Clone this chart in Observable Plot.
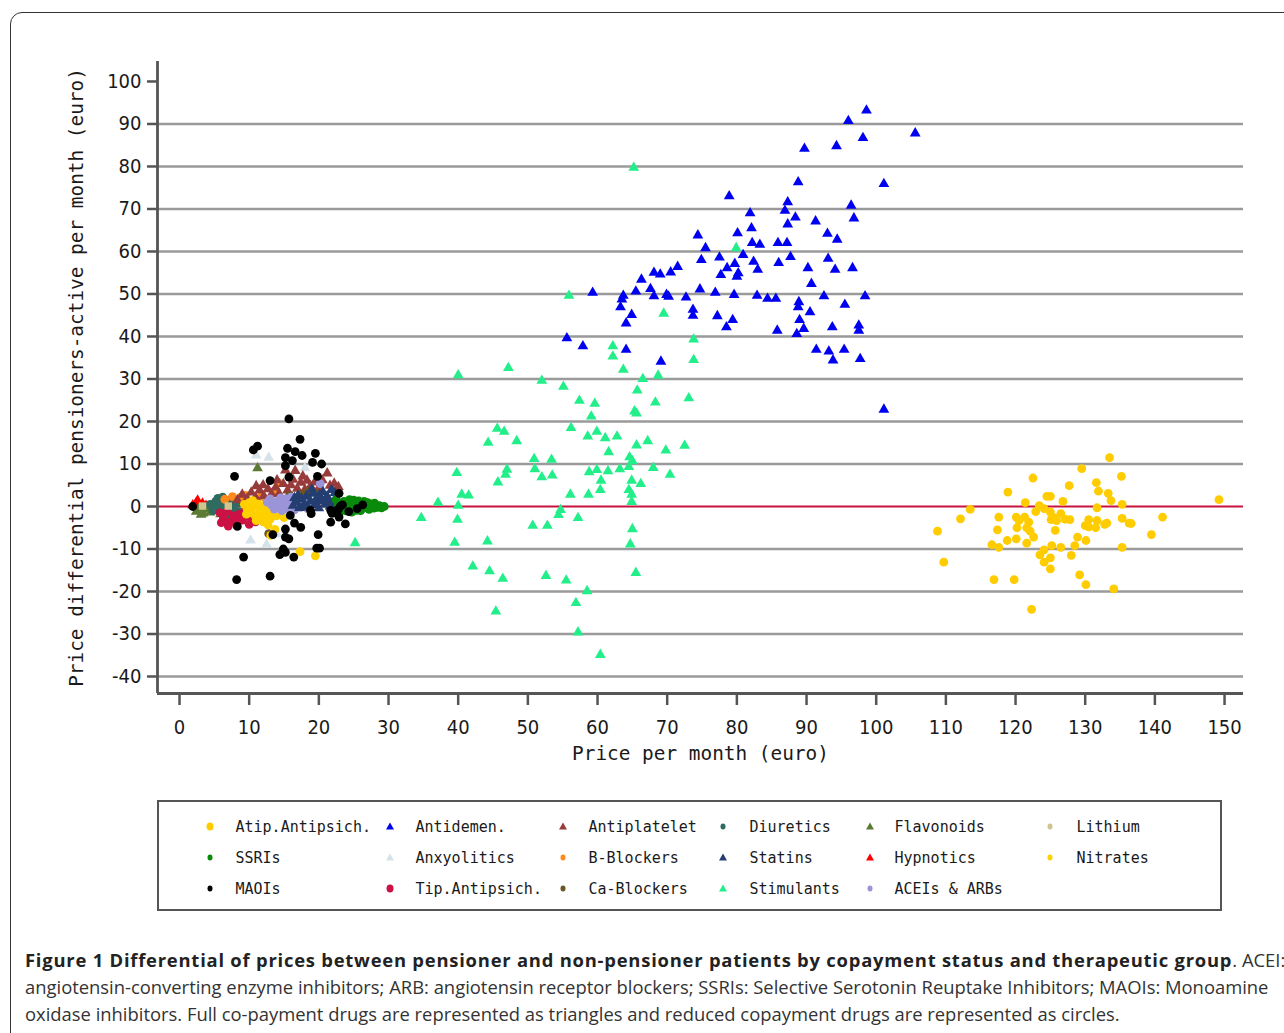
<!DOCTYPE html>
<html>
<head>
<meta charset="utf-8">
<script src="https://cdn.jsdelivr.net/npm/d3@7"></script>
<script src="https://cdn.jsdelivr.net/npm/@observablehq/plot@0.6"></script>
<style>
  html, body { margin: 0; padding: 0; background: #fff; }
  body { width: 1284px; height: 1033px; position: relative; overflow: hidden; }
  #frame { position: absolute; left: 10px; top: 12px; width: 1300px; height: 1060px; border: 1.5px solid #333; border-radius: 12px; box-sizing: border-box; }
  #chart { position: absolute; left: 0; top: 0; }
  #legend { position: absolute; left: 157px; top: 800px; width: 1065px; height: 111px; border: 2.5px solid #555; box-sizing: border-box; }
  .li { position: absolute; font-family: "DejaVu Sans Mono", monospace; font-size: 15px; color: #1a1a1a; line-height: 18px; white-space: nowrap; }
  .sym { position: absolute; }
  #caption { position: absolute; left: 25px; top: 946px; width: 1260px; font-family: "Open Sans", sans-serif; font-size: 18.4px; line-height: 27px; color: #333; white-space: nowrap; }
  #caption b { color: #222; letter-spacing: 0.78px; }
</style>
</head>
<body>
<div id="frame"></div>
<div id="chart"></div>
<div id="legend"></div>
<div id="caption">
<b>Figure 1 Differential of prices between pensioner and non-pensioner patients by copayment status and therapeutic group</b>. ACEI:<br>
angiotensin-converting enzyme inhibitors; ARB: angiotensin receptor blockers; SSRIs: Selective Serotonin Reuptake Inhibitors; MAOIs: Monoamine<br>
oxidase inhibitors. Full co-payment drugs are represented as triangles and reduced copayment drugs are represented as circles.
</div>
<script>
// ---------- DATA ----------
const xTicks = [0,10,20,30,40,50,60,70,80,90,100,110,120,130,140,150];
const yTicks = [-40,-30,-20,-10,0,10,20,30,40,50,60,70,80,90,100];
const gridY = [-40,-30,-20,-10,10,20,30,40,50,60,70,80,90];
const xTitle = "Price per month (euro)";
const yTitle = "Price differential pensioners-active per month (euro)";

const antidemen = [[98.6,93.2],[96.0,90.7],[98.1,86.7],[89.7,84.2],[94.3,84.8],[105.6,87.8],[78.9,73.0],[88.8,76.3],[101.1,75.9],
 [87.3,71.6],[86.9,69.6],[88.4,68.0],[96.4,70.8],[96.8,67.8],[81.9,69.0],[82.1,65.5],[87.3,66.4],[91.3,67.1],[74.4,63.8],[80.1,64.3],
 [93.0,64.2],[94.4,62.8],[82.2,62.0],[83.3,61.6],[85.9,62.0],[87.2,62.0],[75.5,60.8],[80.9,59.2],[74.9,58.0],[77.5,58.6],[82.4,57.6],
 [87.7,58.7],[93.1,58.3],[79.7,57.1],[78.6,56.1],[86.0,57.3],[83.0,55.7],[90.2,56.1],[94.1,55.7],[96.6,56.1],[80.2,54.9],[77.7,54.5],
 [80.0,54.1],[71.5,56.4],[70.5,55.1],[69.0,54.6],[68.1,55.0],[66.3,53.4],[90.7,52.4],[67.6,51.2],[65.5,50.6],[59.3,50.3],[63.7,49.6],
 [68.1,49.5],[69.9,49.8],[70.2,49.4],[74.7,51.1],[72.7,49.2],[76.9,50.3],[79.6,49.8],[82.9,49.6],[84.4,48.9],[85.6,48.9],[92.5,49.5],
 [98.4,49.5],[63.5,48.7],[63.3,46.9],[88.9,48.1],[88.8,46.9],[95.5,47.5],[73.7,46.3],[73.7,44.9],[64.9,45.1],[64.1,43.1],[77.2,44.8],
 [79.4,43.9],[78.5,42.2],[90.5,45.7],[89.0,43.9],[89.6,41.8],[93.7,42.2],[97.5,42.6],[97.5,41.4],[85.8,41.4],[88.6,40.6],[55.6,39.6],
 [57.9,37.7],[64.1,36.9],[69.1,34.1],[91.4,36.9],[93.2,36.5],[95.4,36.9],[93.8,34.4],[97.7,34.7],[101.1,22.8]];

const stimulants = [[40.0,30.9],[47.2,32.6],[52.0,29.6],[55.1,28.2],[57.4,24.9],[59.6,24.2],[59.1,21.2],[62.2,37.7],[62.2,35.3],
 [63.7,32.2],[66.5,30.0],[68.7,30.8],[65.7,27.3],[68.3,24.5],[65.3,22.4],[65.6,21.9],[73.1,25.5],[73.8,34.5],[73.8,39.3],[45.6,18.3],
 [46.6,17.6],[44.3,15.0],[48.4,15.4],[56.2,18.5],[58.6,16.5],[59.9,17.6],[61.1,16.1],[62.8,16.5],[65.6,14.4],[67.2,15.4],[69.8,13.2],
 [72.5,14.3],[61.6,12.8],[64.6,11.6],[65.0,10.7],[50.9,11.2],[53.4,11.0],[47.0,8.7],[46.8,7.5],[45.7,5.7],[51.0,8.8],[52.0,6.9],
 [53.5,7.3],[39.8,7.9],[40.5,2.8],[41.5,2.6],[37.1,0.9],[40.0,0.2],[34.7,-2.7],[39.9,-3.1],[39.5,-8.5],[44.2,-8.2],[58.8,8.1],
 [59.9,8.6],[61.5,8.3],[63.2,8.8],[64.5,9.3],[68.0,9.1],[70.4,7.5],[60.5,6.1],[64.9,6.1],[66.2,5.3],[60.4,3.9],[56.1,2.8],[58.7,2.8],
 [64.5,3.9],[64.9,2.8],[64.9,1.1],[54.7,-0.8],[54.4,-2.0],[57.2,-2.7],[50.7,-4.5],[52.8,-4.5],[65.0,-5.3],[64.7,-8.9],[42.1,-14.1],
 [44.5,-15.2],[46.4,-17.0],[52.6,-16.3],[55.5,-17.4],[65.5,-15.6],[58.5,-19.9],[56.9,-22.7],[45.4,-24.7],[57.2,-29.6],[60.4,-34.9],
 [65.2,79.7],[79.9,60.8],[55.9,49.6],[69.5,45.4],[25.2,-8.6]];

const atipAntipsich = [[133.5,11.5],[129.5,8.9],[122.5,6.7],[135.2,7.1],[118.9,3.4],[127.7,4.9],[131.6,5.6],[131.9,3.6],[133.3,3.1],
 [133.7,1.4],[124.5,2.4],[125.0,2.4],[126.8,1.2],[121.4,0.9],[123.4,0.2],[135.3,0.5],[113.5,-0.7],[149.2,1.6],[131.7,-0.3],[112.1,-2.9],
 [117.6,-2.5],[120.1,-2.5],[121.3,-2.5],[122.9,-1.2],[124.1,-0.5],[125.0,-1.3],[126.5,-1.7],[125.1,-3.1],[125.9,-3.3],[127.8,-3.1],
 [130.5,-3.1],[131.7,-3.3],[133.1,-3.9],[135.3,-2.8],[136.3,-3.9],[141.1,-2.5],[120.5,-3.3],[121.9,-3.7],[120.2,-5.0],[121.6,-5.0],
 [117.4,-5.5],[108.8,-5.8],[125.7,-5.6],[130.0,-4.5],[131.5,-5.0],[122.1,-5.8],[122.6,-7.2],[139.5,-6.6],[120.1,-7.6],[116.6,-9.0],
 [117.6,-9.6],[118.8,-8.0],[121.6,-8.6],[128.9,-7.2],[130.1,-8.0],[128.5,-9.2],[125.2,-9.2],[126.5,-9.6],[135.3,-9.6],[124.1,-10.2],
 [123.5,-11.4],[128.0,-11.5],[125.0,-12.1],[124.1,-13.1],[109.7,-13.1],[125.0,-14.7],[129.2,-16.1],[130.1,-18.4],[116.9,-17.2],
 [119.8,-17.2],[134.1,-19.4],[122.3,-24.2],[125.5,-2.6],[127.1,-3.0],[130.5,-4.8],[132.8,-4.2],[136.6,-4.0]];

const ssris = [[22.8,0.5],[23.3,-0.4],[23.6,1.2],[24.0,0.2],[24.3,-0.8],[24.6,0.9],[24.9,-0.2],[25.2,0.6],[25.4,-0.9],[25.7,1.3],
 [25.9,0.1],[26.2,-0.5],[26.4,0.8],[26.7,-0.1],[26.9,0.4],[27.2,-0.7],[27.4,0.6],[27.6,0.0],[27.9,-0.4],[28.1,0.3],[28.4,-0.2],
 [28.7,0.2],[29.0,-0.3],[29.4,0.0],[22.5,1.6],[23.0,-1.2],[24.4,1.6],[25.5,0.3],[26.0,-1.0],[23.8,-1.0],[25.0,1.5],[26.5,1.2],
 [27.0,0.9],[28.0,0.8],[24.7,-1.3]];

const statins = [[16.3,0.2],[16.8,1.1],[17.2,-0.3],[17.5,1.8],[17.9,0.6],[18.2,2.4],[18.5,-0.2],[18.8,1.3],[19.1,3.0],[19.4,0.4],
 [19.7,2.0],[20.0,-0.4],[20.3,1.2],[20.6,3.4],[20.9,0.5],[21.2,2.4],[21.5,1.0],[21.8,3.9],[22.1,0.2],[22.4,2.0],[22.7,1.0],[19.0,4.0],
 [17.0,2.6],[20.1,2.7],[21.0,1.8],[18.0,0.0],[16.5,2.0],[22.3,3.2],[19.6,1.4],[21.6,0.0]];

const aceisArbs = [[13.2,0.4],[13.6,-0.6],[14.0,1.2],[14.3,0.0],[14.7,-1.0],[15.0,0.8],[15.3,1.8],[15.6,-0.4],[15.9,0.6],[16.2,1.4],
 [16.5,-0.8],[16.8,0.2],[17.1,1.0],[17.4,-0.2],[17.8,0.5],[18.1,1.6],[18.4,-0.5],[14.5,2.0],[16.0,2.2],[13.0,1.8],[19.0,0.8],[20.2,5.4],[12.6,1.0]];

const nitrates = [[9.3,0.5],[9.7,-0.6],[10.0,0.9],[10.3,-1.5],[10.6,0.0],[10.9,-2.3],[11.2,0.6],[11.5,-1.0],[11.8,-2.8],[12.1,0.2],
 [12.4,-1.8],[12.7,-0.5],[13.0,-3.0],[13.3,-1.2],[13.6,-0.2],[13.9,-2.2],[14.2,-0.8],[14.6,-1.6],[11.0,-3.3],[12.0,-3.6],[9.6,-1.8],
 [10.5,1.4],[12.7,-4.3],[13.7,-5.4],[13.1,-6.8],[17.3,-10.6],[19.5,-11.6],[15.0,-2.6]];

const antiplatelet = [[8.3,1.5],[9.0,2.8],[9.7,1.8],[10.3,3.3],[10.9,2.2],[11.5,3.8],[12.1,2.5],[12.7,4.1],[13.2,2.9],[13.8,4.5],
 [14.3,3.0],[14.9,5.3],[15.2,8.5],[15.5,3.8],[16.0,5.0],[16.6,8.4],[16.9,4.2],[17.4,5.6],[18.0,4.0],[18.3,6.1],[18.8,4.8],[19.4,5.7],
 [20.0,4.4],[20.5,6.2],[21.2,7.8],[21.6,4.9],[22.2,5.4],[22.8,4.6],[12.0,5.0],[14.0,6.2],[16.3,6.3],[19.0,3.2],[11.0,4.8],[17.7,7.1]];

const tipAntipsich = [[5.8,-1.5],[6.3,-2.8],[6.8,-1.2],[7.2,-3.6],[7.7,-2.2],[8.1,-4.0],[8.6,-1.8],[9.0,-3.2],[9.5,-2.4],[10.0,-4.2],
 [10.4,-2.8],[10.9,-3.6],[11.4,-2.0],[7.0,-4.6],[9.3,-1.2],[8.3,-3.0],[6.0,-3.8]];

const diuretics = [[4.4,0.5],[4.8,-1.0],[5.2,1.2],[5.6,-0.3],[6.0,0.8],[6.4,-1.5],[6.8,0.2],[7.2,1.5],[7.6,-0.8],[8.0,0.6],[8.5,-1.2],
 [8.9,0.9],[5.5,1.9],[7.0,-2.0],[6.2,2.2]];

const flavonoids = [[2.4,-1.2],[2.9,-0.3],[3.4,-1.6],[3.9,-0.6],[4.4,-1.4],[4.9,-0.2],[5.4,-1.0],[5.9,-1.8],[3.1,-1.9],[9.7,-2.1],[11.2,9.0],[6.5,-0.4]];

const hypnotics = [[1.9,0.3],[2.4,0.9],[2.9,-0.3],[3.3,0.7],[3.8,0.2],[4.2,-0.4],[2.6,1.4]];

const bBlockers = [[14.1,5.7],[13.6,3.6],[8.8,2.2],[6.5,1.7],[10.7,1.4],[11.8,2.4],[9.5,2.6],[7.6,2.3],[12.5,1.6]];

const lithium = [[3.3,0.1],[7.0,0.1]];

const caBlockers = [[12.8,-6.4],[17.5,2.8],[18.5,3.5],[19.8,3.0],[15.8,2.6]];

const anxyolitics = [[11.0,12.0],[12.8,11.5],[10.2,-8.0],[12.5,-9.0],[14.0,-6.5],[18.0,9.0]];

const maois = [[15.7,20.6],[17.3,15.8],[11.2,14.2],[10.6,13.3],[15.5,13.7],[16.6,12.9],[19.5,12.5],[15.2,11.5],[16.2,10.8],[17.6,12.0],
 [19.1,10.4],[20.4,10.0],[15.2,9.6],[7.9,7.1],[13.0,6.1],[15.7,6.9],[19.8,7.1],[22.9,3.1],[21.7,-0.9],[21.9,-1.6],[22.8,-0.7],[23.1,0.1],
 [23.4,0.4],[18.8,-0.9],[18.9,-1.7],[15.9,-2.1],[21.7,-3.7],[22.9,-2.5],[23.8,-4.1],[8.3,-4.7],[16.5,-3.9],[17.4,-4.9],[15.2,-5.3],
 [13.4,-6.6],[15.2,-7.2],[15.7,-7.6],[19.9,-6.6],[14.9,-10.0],[15.2,-10.8],[14.4,-11.3],[16.4,-11.9],[19.7,-9.8],[20.1,-9.8],[9.2,-11.9],
 [8.2,-17.2],[13.0,-16.4],[1.9,0.0],[25.5,-0.5],[26.3,0.4],[24.3,-1.2]];

// ---------- STYLES (drawing order) ----------
const groups = [
  {name:"Stimulants", data:stimulants, color:"#22EE8A", symbol:"triangle"},
  {name:"Antidemen.", data:antidemen, color:"#0000F0", symbol:"triangle"},
  {name:"Atip.Antipsich.", data:atipAntipsich, color:"#FFCC00", symbol:"circle"},
  {name:"Anxyolitics", data:anxyolitics, color:"#D6E2EA", symbol:"triangle"},
  {name:"Hypnotics", data:hypnotics, color:"#FF0000", symbol:"triangle"},
  {name:"Flavonoids", data:flavonoids, color:"#5B7A33", symbol:"triangle"},
  {name:"Diuretics", data:diuretics, color:"#2E6B60", symbol:"circle"},
  {name:"Tip.Antipsich.", data:tipAntipsich, color:"#CC1144", symbol:"circle"},
  {name:"B-Blockers", data:bBlockers, color:"#FF8A1A", symbol:"circle"},
  {name:"Antiplatelet", data:antiplatelet, color:"#983B3B", symbol:"triangle"},
  {name:"Ca-Blockers", data:caBlockers, color:"#6B5523", symbol:"circle"},
  {name:"Nitrates", data:nitrates, color:"#FFD000", symbol:"circle"},
  {name:"ACEIs & ARBs", data:aceisArbs, color:"#9C94D8", symbol:"circle"},
  {name:"Statins", data:statins, color:"#243E72", symbol:"triangle"},
  {name:"SSRIs", data:ssris, color:"#0A8A0A", symbol:"circle"},
  {name:"MAOIs", data:maois, color:"#000000", symbol:"circle"},
  {name:"Lithium", data:lithium, color:"#CFC590", symbol:"square"}
];

const legendOrder = [
  ["Atip.Antipsich.","Antidemen.","Antiplatelet","Diuretics","Flavonoids","Lithium"],
  ["SSRIs","Anxyolitics","B-Blockers","Statins","Hypnotics","Nitrates"],
  ["MAOIs","Tip.Antipsich.","Ca-Blockers","Stimulants","ACEIs & ARBs"]
];

// ---------- CHART ----------
const xDomain = [-3.16, 152.72];
const yDomain = [-44, 104.7];
const tickFont = "'DejaVu Sans Condensed', 'DejaVu Sans', sans-serif";
const monoFont = "'DejaVu Sans Mono', monospace";

const dotMarks = groups.map(g => Plot.dot(g.data, {
  x: d => d[0], y: d => d[1],
  symbol: () => g.symbol, fill: g.color, stroke: "none",
  r: g.symbol === "triangle" ? 4.0 : (g.symbol === "square" ? 4.2 : 4.4)
}));

const chart = Plot.plot({
  width: 1284, height: 790,
  marginLeft: 157, marginRight: 41, marginTop: 61, marginBottom: 97,
  x: {domain: xDomain},
  y: {domain: yDomain},
  symbol: {type: "identity"},
  style: {fontFamily: tickFont, background: "transparent", overflow: "visible"},
  marks: [
    Plot.ruleY(gridY, {stroke: "#9a9a9a", strokeWidth: 2.6}),
    Plot.ruleY([0], {stroke: "#C8133F", strokeWidth: 2.2}),
    Plot.axisY(yTicks, {tickSize: 10, tickPadding: 6, stroke: "#555", strokeWidth: 2.5, fill: "#1a1a1a", fontSize: 20, label: null, tickFormat: d => String(d)}),
    Plot.axisX(xTicks, {tickSize: 12, tickPadding: 14, stroke: "#555", strokeWidth: 2.5, fill: "#1a1a1a", fontSize: 20, label: null, tickFormat: d => String(d)}),
    Plot.ruleX([xDomain[0]], {y1: yDomain[0], y2: yDomain[1], stroke: "#555", strokeWidth: 2.8}),
    Plot.ruleY([yDomain[0]], {stroke: "#555", strokeWidth: 2.8}),
    ...dotMarks,
    Plot.text([xTitle], {frameAnchor: "bottom", dy: 66, fontFamily: monoFont, fontSize: 19.4, fill: "#1a1a1a"}),
    Plot.text([yTitle], {frameAnchor: "left", dx: -81, rotate: -90, textAnchor: "middle", fontFamily: monoFont, fontSize: 19.4, fill: "#1a1a1a"})
  ]
});
document.getElementById("chart").appendChild(chart);

// ---------- LEGEND ----------
const legend = document.getElementById("legend");
const symX = [51, 231, 404, 564, 711, 891];
const txtX = [79, 259, 432, 593, 738, 920];
const rowY = [27, 58, 89];
const byName = Object.fromEntries(groups.map(g => [g.name, g]));
legendOrder.forEach((row, ri) => row.forEach((name, ci) => {
  const g = byName[name];
  const s = document.createElementNS("http://www.w3.org/2000/svg", "svg");
  s.setAttribute("width", 14); s.setAttribute("height", 14);
  s.setAttribute("class", "sym");
  s.style.left = (symX[ci] - 7) + "px"; s.style.top = (rowY[ri] - 7 - 2.5) + "px";
  let shape;
  if (g.symbol === "triangle") {
    shape = document.createElementNS("http://www.w3.org/2000/svg", "path");
    shape.setAttribute("d", "M7,2.5 L11,9.5 L3,9.5 Z");
  } else {
    shape = document.createElementNS("http://www.w3.org/2000/svg", "ellipse");
    shape.setAttribute("cx", 7); shape.setAttribute("cy", 6.5);
    shape.setAttribute("rx", name === "Atip.Antipsich." || name === "Tip.Antipsich." ? 3.5 : 2.5);
    shape.setAttribute("ry", name === "Atip.Antipsich." || name === "Tip.Antipsich." ? 4 : 3);
  }
  shape.setAttribute("fill", g.color);
  s.appendChild(shape);
  legend.appendChild(s);
  const t = document.createElement("div");
  t.className = "li";
  t.textContent = name;
  t.style.left = (txtX[ci] - 2.5) + "px"; t.style.top = (rowY[ri] - 9 - 2.5) + "px";
  legend.appendChild(t);
}));
</script>
</body>
</html>
